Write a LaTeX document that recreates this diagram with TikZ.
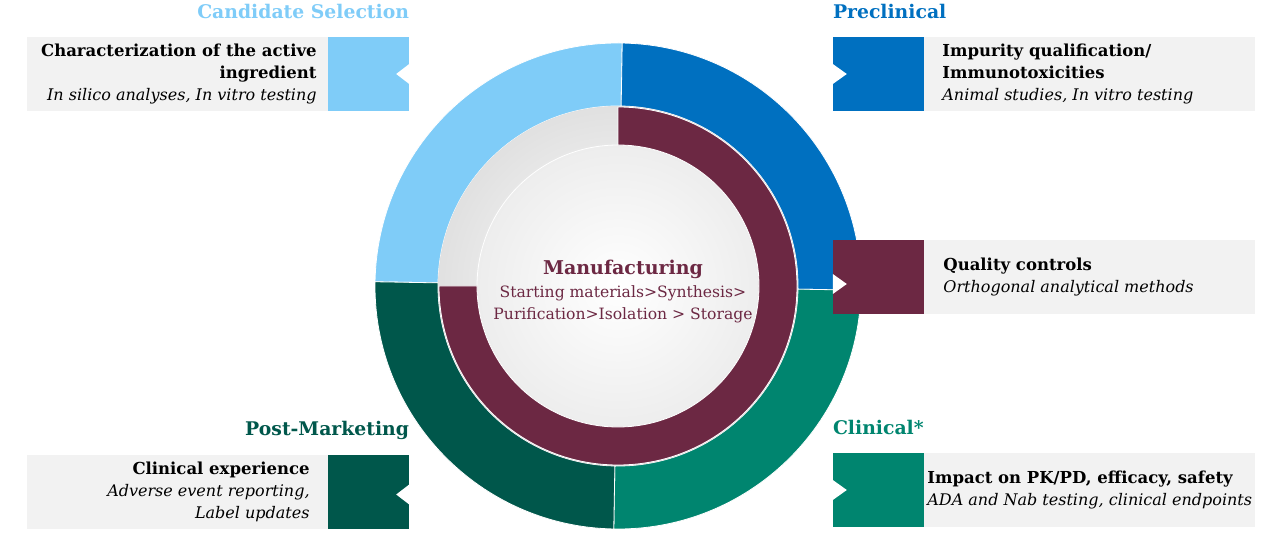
\documentclass[tikz,border=0pt]{standalone}
\usepackage{fontspec}
\setmainfont{DejaVu Serif}
\usetikzlibrary{positioning,calc}
\definecolor{candblue}{HTML}{7FCCF8}
\definecolor{preblue}{HTML}{0070C0}
\definecolor{mfgred}{HTML}{6C2843}
\definecolor{clinteal}{HTML}{00856F}
\definecolor{postgreen}{HTML}{00574B}
\definecolor{boxgray}{HTML}{F2F2F2}
\newcommand{\boxhead}[1]{{\fontsize{16.5}{22}\selectfont\bfseries #1}}
\newcommand{\boxnote}[1]{{\fontsize{16}{22}\selectfont\itshape #1}}
\tikzset{
  stagesq/.style={
    rectangle, fill=#1, minimum width=91pt, minimum height=74pt,
    inner sep=0pt
  },
  stagesq/.default=preblue,
  graybox/.style={
    rectangle, fill=boxgray, minimum height=74pt, inner sep=0pt
  },
  boxtext/.style={
    font=\fontsize{16}{22}\selectfont, align=#1, inner sep=0pt
  },
  boxtext/.default=left,
  stagetitle/.style={
    font=\fontsize{18.8}{22}\selectfont\bfseries, text=#1,
    inner sep=0pt, text depth=0pt
  },
  notch/.style={fill=white},
}
% ring piece: colour, start, end, inner radius, outer radius
\newcommand{\ringseg}[5]{%
  \filldraw[fill=#1, draw=white, line width=0.8pt]
    ($(hub)+(#2:#5)$) arc[start angle=#2, end angle=#3, radius=#5]
    -- ($(hub)+(#3:#4)$) arc[start angle=#3, end angle=#2, radius=#4]
    -- cycle;}

\begin{document}
\begin{tikzpicture}[x=1pt, y=1pt]
  \useasboundingbox (0,0) rectangle (1280,544);
  \coordinate (hub) at (618,258);

  % outer ring of stages
  \ringseg{candblue}{89}{179}{180}{243}
  \ringseg{preblue}{-1}{89}{180}{243}
  \ringseg{clinteal}{-91}{-1}{180}{243}
  \ringseg{postgreen}{179}{269}{180}{243}

  % centre disk and manufacturing ring
  \shade[inner color=white, outer color=black!12] (hub) circle[radius=180];
  \shade[inner color=white, outer color=black!7] (hub) circle[radius=141];
  \draw[white, line width=0.8pt] (hub) circle[radius=141];
  \ringseg{mfgred}{180}{450}{141}{179}

  \node[text=mfgred, align=center, inner sep=0pt,
        font=\fontsize{15.6}{22}\selectfont] (mfg) at (623,252)
    {{\fontsize{19}{22}\selectfont\bfseries Manufacturing}\\[1pt]
     Starting materials>Synthesis>\\
     Purification>Isolation > Storage};

  % stage squares
  \node[stagesq=candblue, minimum width=81pt] (sqcand) at (368.5,470) {};
  \node[stagesq=preblue] (sqpre) at (878.5,470) {};
  \node[stagesq=mfgred] (sqqc) at (878.5,267) {};
  \node[stagesq=postgreen, minimum width=81pt] (sqpost) at (368.5,52.5) {};
  \node[stagesq=clinteal] (sqclin) at (878.5,54) {};

  % gray text boxes
  \node[graybox, minimum width=301pt, left=0pt of sqcand] (boxcand) {};
  \node[graybox, minimum width=331pt, right=0pt of sqpre] (boxpre) {};
  \node[graybox, minimum width=331pt, right=0pt of sqqc] (boxqc) {};
  \node[graybox, minimum width=301pt, left=0pt of sqpost] (boxpost) {};
  \node[graybox, minimum width=331pt, right=0pt of sqclin] (boxclin) {};

  % notches
  \fill[notch] (sqcand.east) ++(0,10) -- ++(-13,-10) -- ++(13,-10) -- cycle;
  \fill[notch] (sqpre.west) ++(0,10) -- ++(14,-10) -- ++(-14,-10) -- cycle;
  \fill[notch] (sqqc.west) ++(0,3) -- ++(14,-10) -- ++(-14,-10) -- cycle;
  \fill[notch] (sqpost.east) ++(0,7) -- ++(-13,-10) -- ++(13,-10) -- cycle;
  \fill[notch] (sqclin.west) ++(0,10) -- ++(14,-10) -- ++(-14,-10) -- cycle;

  % box texts
  \node[boxtext=right, left=11pt of sqcand] (txtcand)
    {\boxhead{Characterization of the active}\\
     \boxhead{ingredient}\\
     \boxnote{In silico analyses, In vitro testing}};
  \node[boxtext, right=18pt of sqpre] (txtpre)
    {\boxhead{Impurity qualification/}\\
     \boxhead{Immunotoxicities}\\
     \boxnote{Animal studies, In vitro testing}};
  \node[boxtext, right=19pt of sqqc] (txtqc)
    {\boxhead{Quality controls}\\
     \boxnote{Orthogonal analytical methods}};
  \node[boxtext=right, left=18pt of sqpost] (txtpost)
    {\boxhead{Clinical experience}\\
     \boxnote{Adverse event reporting,}\\
     \boxnote{Label updates}};
  \node[boxtext, right=3pt of sqclin] (txtclin)
    {\boxhead{Impact on PK/PD, efficacy, safety}\\
     \boxnote{ADA and Nab testing, clinical endpoints}};

  % stage titles
  \node[stagetitle=candblue, above left=18pt and 0pt of sqcand.north east]
    (ttlcand) {Candidate Selection};
  \node[stagetitle=preblue, above right=18pt and 0pt of sqpre.north west]
    (ttlpre) {Preclinical};
  \node[stagetitle=postgreen, above left=19pt and 0pt of sqpost.north east]
    (ttlpost) {Post-Marketing};
  \node[stagetitle=clinteal, above right=18pt and 0pt of sqclin.north west]
    (ttlclin) {Clinical*};
\end{tikzpicture}
\end{document}
